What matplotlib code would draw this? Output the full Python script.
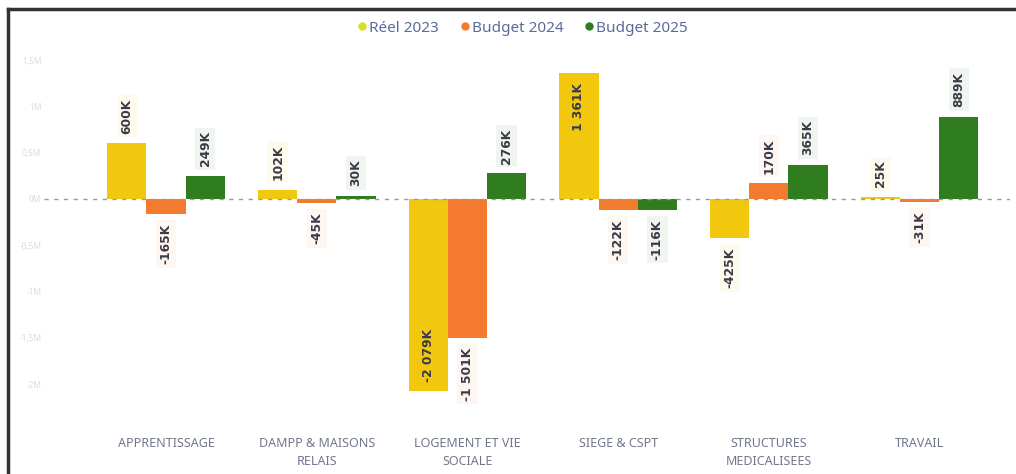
import numpy as np
import matplotlib
matplotlib.use("Agg")
import matplotlib.pyplot as plt
from matplotlib.lines import Line2D
from matplotlib.colors import to_rgb

plt.rcParams['font.family'] = ['Noto Sans', 'DejaVu Sans']

categories = ["APPRENTISSAGE", "DAMPP & MAISONS\nRELAIS", "LOGEMENT ET VIE\nSOCIALE",
              "SIEGE & CSPT", "STRUCTURES\nMEDICALISEES", "TRAVAIL"]
series_names = ["Réel 2023", "Budget 2024", "Budget 2025"]
reel_2023 = [600, 102, -2079, 1361, -425, 25]
budget_2024 = [-165, -45, -1501, -122, 170, -31]
budget_2025 = [249, 30, 276, -116, 365, 889]
yticks = [1500, 1000, 500, 0, -500, -1000, -1500, -2000]
ytick_labels = ["1,5M", "1M", "0,5M", "0M", "-0,5M", "-1M", "-1,5M", "-2M"]

COLORS = ["#F2C80F", "#F47A2E", "#2F7D1F"]
LEGEND_DOT = ["#D9E021", "#F47A2E", "#2F7D1F"]
W, H = 1016, 474


def fmt(v):
    return f"{v:,}".replace(",", " ") + "K"


def tint(c, f=0.93):
    r, g, b = to_rgb(c)
    return (r + (1 - r) * f, g + (1 - g) * f, b + (1 - b) * f)


fig = plt.figure(figsize=(W / 100, H / 100), dpi=100)
ax = fig.add_axes([44 / W, 1 - 420 / H, (1010 - 44) / W, (420 - 40) / H])

ymin, ymax = -2387, 1717
ax.set_ylim(ymin, ymax)
ax.set_xlim(-0.81, 5.6)

x = np.arange(len(categories))
bw = 0.26
label_len = 560  # rough length of a rotated label, data units

for i, vals in enumerate([reel_2023, budget_2024, budget_2025]):
    xs = x + (i - 1) * bw
    ax.bar(xs, vals, width=bw, color=COLORS[i], zorder=2)
    for xx, v in zip(xs, vals):
        if v >= 0:
            inside = v + label_len > ymax
            off, va = (-7, 'top') if inside else (7, 'bottom')
        else:
            inside = v - label_len < ymin
            off, va = (7, 'bottom') if inside else (-7, 'top')
        ax.annotate(fmt(v), (xx, v), xytext=(0, off), textcoords='offset points',
                    rotation=90, ha='center', va=va, fontsize=8.8, fontweight='bold',
                    family='DejaVu Sans', color='#3a3a48', zorder=4,
                    bbox=dict(boxstyle='square,pad=0.3', fc=COLORS[i] if inside else tint(COLORS[i]),
                              ec='none'))

ax.axhline(0, color='#9a9a9a', lw=1, ls=(0, (3, 4)), zorder=3)

ax.set_yticks(yticks)
ax.set_yticklabels(ytick_labels, fontsize=6, color='#dadada')
ax.set_xticks(x)
ax.set_xticklabels(categories, fontsize=9, color='#72778c', linespacing=1.5)
ax.tick_params(axis='both', length=0)
ax.tick_params(axis='x', pad=12)
ax.tick_params(axis='y', pad=2)
for s in ax.spines.values():
    s.set_visible(False)

handles = [Line2D([], [], marker='o', ls='none', color=c, markersize=5) for c in LEGEND_DOT]
fig.legend(handles, series_names, loc='center', bbox_to_anchor=(522 / W, 1 - 28 / H), ncol=3,
           frameon=False, fontsize=11, handletextpad=0.05, columnspacing=1.3,
           labelcolor='#5a6a9a', handlelength=0.8)

# screenshot frame, left and top only
fig.add_artist(Line2D([8 / W, 8 / W], [0, 1 - 9 / H], color='#333333', lw=2.5))
fig.add_artist(Line2D([8 / W, 1], [1 - 9 / H, 1 - 9 / H], color='#333333', lw=2.5))

fig.savefig("out.png", dpi=100)
